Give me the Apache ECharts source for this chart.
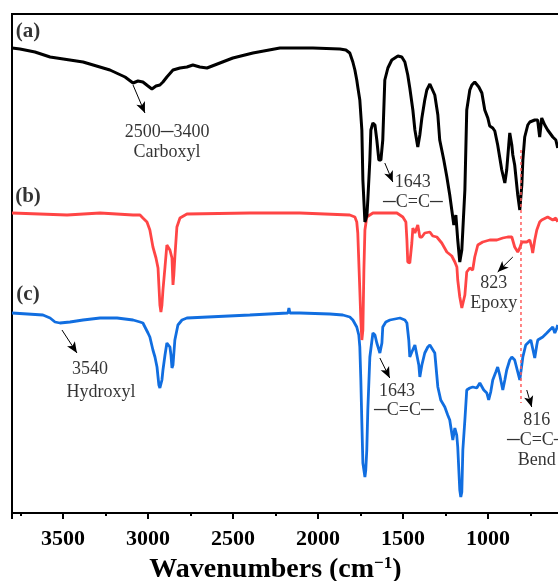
<!DOCTYPE html>
<html><head><meta charset="utf-8">
<script src="https://cdn.jsdelivr.net/npm/echarts@6/dist/echarts.min.js"></script>
<style>html,body{margin:0;padding:0;background:#fff}#c{width:558px;height:581px}</style>
</head><body><div id="c"></div>
<script>
// Wavenumber (cm-1) and transmittance (arbitrary, offset) for each spectrum
const wnA = [3800,3753,3665,3576,3382,3224,3135,3088,3059,3030,3000,2977,2953,2930,2912,2889,2853,2812,2771,2736,2695,2653,2577,2501,2383,2224,2030,1871,1836,1813,1795,1783,1772,1766,1754,1742,1736,1724,1712,1707,1695,1689,1677,1665,1654,1642,1630,1619,1607,1589,1566,1530,1507,1489,1472,1460,1442,1430,1413,1401,1389,1372,1360,1342,1331,1313,1295,1284,1260,1242,1225,1213,1201,1189,1178,1166,1154,1148,1136,1125,1107,1095,1078,1054,1036,1019,1001,990,972,960,943,919,901,890,878,872,860,854,843,825,813,801,795,784,766,754,725,708,696,684,666,649,619,601,590];
const valA = [465,464,461,456,451,443,436,430,432,431,427,424,427,428,431,436,443,445,446,448,446,445,450,455,460,465,465,464,463,460,451,443,433,426,413,383,333,291,298,313,353,383,390,388,373,353,353,373,433,445,453,457,456,451,438,425,403,383,366,378,395,413,423,429,428,418,398,373,353,336,318,303,288,298,273,251,263,283,323,403,423,428,431,426,420,403,395,387,385,382,368,343,330,343,368,380,368,358,348,318,303,328,353,376,388,391,393,393,376,395,388,383,376,373,365];

const wnB = [3800,3476,3282,3088,3047,3030,3006,2989,2971,2953,2941,2936,2930,2924,2918,2912,2900,2889,2883,2871,2859,2853,2848,2842,2830,2812,2771,2401,2107,1813,1783,1772,1766,1754,1748,1742,1736,1730,1724,1713,1677,1536,1501,1483,1477,1472,1460,1448,1442,1430,1413,1401,1389,1372,1342,1325,1301,1272,1242,1213,1195,1183,1178,1166,1154,1148,1136,1125,1107,1090,1078,1060,1031,990,948,913,884,860,843,825,813,801,772,754,742,737,725,713,696,684,649,619,601,590];
const valB = [300,298,300,298,298,295,291,283,266,255,245,228,208,201,208,223,246,268,270,263,255,228,238,256,286,295,299,300,300,298,296,291,280,223,193,173,183,243,283,296,300,300,296,291,273,251,250,270,285,280,288,276,276,280,281,277,276,270,261,257,251,246,233,216,205,203,218,241,245,243,256,268,271,273,273,275,276,276,266,261,265,271,271,273,265,260,273,283,291,293,296,293,295,291];

const wnC = [3800,3618,3576,3547,3518,3459,3382,3282,3182,3088,3047,3030,3000,2989,2971,2959,2947,2941,2936,2930,2924,2918,2912,2900,2889,2883,2871,2865,2859,2853,2842,2824,2800,2771,2401,2177,2171,2165,2107,1930,1854,1813,1795,1772,1760,1754,1748,1742,1736,1730,1724,1719,1713,1707,1695,1677,1665,1654,1636,1624,1619,1601,1577,1518,1489,1477,1466,1460,1448,1442,1430,1419,1407,1401,1389,1372,1354,1342,1331,1313,1295,1278,1254,1237,1225,1207,1195,1184,1178,1166,1160,1154,1148,1136,1125,1107,1090,1066,1048,1025,1007,996,984,972,954,943,931,913,901,890,872,860,843,825,813,807,795,778,766,748,737,725,713,707,678,654,637,619,607,595,590];
const valC = [200,198,195,191,190,191,193,195,195,193,191,190,180,176,163,156,146,136,128,125,125,133,143,158,170,172,166,158,145,148,173,188,193,195,198,200,205,200,200,199,198,196,193,186,178,166,133,90,50,43,36,43,63,103,156,180,178,170,160,170,186,191,193,195,193,190,173,156,161,163,168,168,148,136,148,160,166,168,166,160,126,113,106,98,93,73,85,78,66,23,16,21,63,93,123,125,126,125,130,123,120,113,121,133,141,146,138,123,133,143,153,156,153,141,133,135,156,168,170,173,173,155,168,173,176,180,183,186,180,185,188];

// Reference line at the C=C bending band
const refLineWn = 806;
const refLineVals = [363, 110];

// Tick labels on the wavenumber axis
const tickLabels = [3500, 3000, 2500, 2000, 1500, 1000];

// Panel labels and annotations [text, wavenumber, value]
const panelLabels = [['(a)', 3706, 481], ['(b)', 3706, 316], ['(c)', 3706, 218]];
const notes = [
  ['2500─3400\nCarboxyl', 2888, 371],
  ['1643\n─C=C─', 1442, 321],
  ['823\nEpoxy', 966, 220],
  ['3540', 3341, 144],
  ['Hydroxyl', 3277, 121],
  ['1643', 1536, 122],
  ['─C=C─', 1495, 103],
  ['816\n─C=C─\nBend', 713, 73]
];
// Arrows [fromWn, fromVal, toWn, toVal]
const arrows = [
  [3088, 428, 3018, 400],
  [1607, 350, 1560, 331],
  [854, 256, 943, 241],
  [3506, 183, 3418, 160],
  [1636, 155, 1578, 135],
  [772, 123, 743, 106]
];

const zip = (xs, ys) => xs.map((x, i) => [x, ys[i]]);
const serif = 'Liberation Serif';

const chart = echarts.init(document.getElementById('c'), null, {renderer: 'canvas'});
chart.setOption({
  animation: false,
  backgroundColor: '#fff',
  grid: {left: 12, top: 14, width: 561, height: 499, containLabel: false, outerBoundsMode: 'none',
         show: true, borderColor: '#000', borderWidth: 2, backgroundColor: 'transparent'},
  xAxis: [{
    type: 'value', inverse: true, min: 500, max: 3800, interval: 500,
    axisLine: {show: true, lineStyle: {color: '#000', width: 2}},
    axisTick: {show: true, length: 6, lineStyle: {color: '#000', width: 2}},
    splitLine: {show: false},
    axisLabel: {
      margin: 15, color: '#000', fontFamily: serif, fontWeight: 'bold', fontSize: 22,
      formatter: v => tickLabels.indexOf(v) >= 0 ? String(v) : ''
    },
    name: '{b|Wavenumbers (cm}{s|−1}{b|)}',
    nameLocation: 'middle', nameGap: 41,
    nameTextStyle: {
      padding: [0, 34, 0, 0],
      rich: {
        b: {fontFamily: serif, fontWeight: 'bold', fontSize: 28, color: '#000', lineHeight: 30},
        s: {fontFamily: serif, fontWeight: 'bold', fontSize: 17, color: '#000', verticalAlign: 'top', lineHeight: 30, padding: [0, 0, 14, 0]}
      }
    }
  }, {
    type: 'value', inverse: true, min: 500, max: 3800, interval: 250, position: 'bottom',
    axisLine: {show: false},
    axisTick: {show: true, length: 3, lineStyle: {color: '#000', width: 2}},
    axisLabel: {show: false}, splitLine: {show: false}
  }],
  yAxis: {
    type: 'value', min: 0, max: 499,
    axisLine: {show: true, lineStyle: {color: '#000', width: 2}},
    axisTick: {show: false}, axisLabel: {show: false}, splitLine: {show: false}
  },
  series: [
    {type: 'line', name: 'c', data: zip(wnC, valC), showSymbol: false, symbol: 'none', lineStyle: {color: '#116ee0', width: 2.8}, z: 2},
    {type: 'line', name: 'b', data: zip(wnB, valB), showSymbol: false, symbol: 'none', lineStyle: {color: '#ff4545', width: 2.8}, z: 3},
    {type: 'line', name: 'a', data: zip(wnA, valA), showSymbol: false, symbol: 'none', lineStyle: {color: '#000', width: 3}, z: 4},
    {type: 'line', name: 'ref', data: refLineVals.map(v => [refLineWn, v]), showSymbol: false, symbol: 'none', lineStyle: {color: '#ff5c5c', width: 1.5, type: [3, 3]}, z: 5},
    {
      type: 'scatter', name: 'labels', symbolSize: 0.1, z: 6,
      data: panelLabels.map(p => ({value: [p[1], p[2]], name: p[0]})),
      label: {show: true, position: 'inside', formatter: p => p.name, color: '#000', fontFamily: serif, fontWeight: 'bold', fontSize: 21}
    },
    {
      type: 'scatter', name: 'notes', symbolSize: 0.1, z: 6,
      data: notes.map(p => ({value: [p[1], p[2]], name: p[0]})),
      label: {show: true, position: 'inside', formatter: p => p.name, color: '#000', fontFamily: serif, fontSize: 18, lineHeight: 20, align: 'center'},
      markLine: {
        silent: true, symbol: ['none', 'arrow'], symbolSize: [7, 11],
        lineStyle: {color: '#000', width: 1, type: 'solid'}, label: {show: false},
        data: arrows.map(a => [{coord: [a[0], a[1]]}, {coord: [a[2], a[3]]}])
      }
    }
  ]
});
</script></body></html>
